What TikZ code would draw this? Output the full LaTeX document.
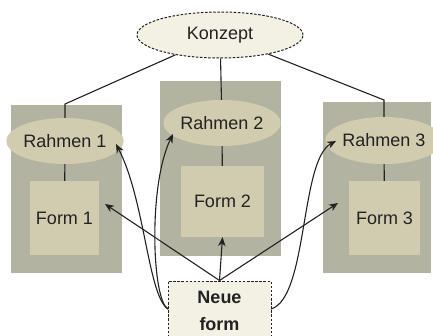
\documentclass[tikz,border=0pt]{standalone}
\usepackage{fontspec}
\setmainfont{Liberation Sans}
\usetikzlibrary{shapes.geometric,arrows.meta}
\definecolor{panelgray}{HTML}{B3B3A2}
\definecolor{shapefill}{HTML}{D1CCAF}
\definecolor{lightfill}{HTML}{F3F0E4}
\definecolor{ink}{HTML}{222222}
\tikzset{
  x=1pt, y=1pt,
  every node/.style={font=\fontsize{18}{22}\selectfont, text=ink, inner sep=0pt},
  panel/.style={rectangle, fill=panelgray},
  frame/.style={ellipse, fill=shapefill},
  formbox/.style={rectangle, fill=shapefill},
  dotted border/.style={draw=ink, line width=1pt, dash pattern=on 2.5pt off 1.6pt},
  link/.style={draw=ink, line width=1.1pt},
  arr/.style={link, -{Stealth[length=9pt,width=7.5pt]}},
}
\begin{document}
\begin{tikzpicture}
\useasboundingbox (0,0) rectangle (433,-335);

% grey column panels
\node[panel, minimum width=111, minimum height=168] (p1) at (66.5,-189) {};
\node[panel, minimum width=121, minimum height=175] (p2) at (220.5,-168.5) {};
\node[panel, minimum width=108, minimum height=171] (p3) at (377,-187.5) {};

% top concept
\node[ellipse, fill=lightfill, dotted border, minimum width=166, minimum height=46] (konzept) at (220,-35) {Konzept};

% frames and forms
\node[frame, minimum width=95, minimum height=46] (r1) at (65,-141) {Rahmen 1};
\node[formbox, minimum width=69, minimum height=74] (f1) at (64.5,-218) {Form 1};
\node[frame, minimum width=93, minimum height=46] (r2) at (222,-123) {Rahmen 2};
\node[formbox, minimum width=83, minimum height=71] (f2) at (222.5,-201.5) {Form 2};
\node[frame, minimum width=94, minimum height=47] (r3) at (384,-140.5) {Rahmen 3};
\node[formbox, minimum width=71, minimum height=74] (f3) at (384.5,-218) {Form 3};

% new form box
\node[rectangle, fill=lightfill, dotted border, minimum width=103, minimum height=60,
      align=center, font=\fontsize{18}{27}\selectfont\bfseries] (neue) at (219.5,-311) {Neue\\form};

% tree connectors
\coordinate (k1) at (65,-104);
\coordinate (k3) at (384,-100);
\draw[link] (konzept) -- (k1) -- (r1);
\draw[link] (konzept) -- (r2);
\draw[link] (konzept) -- (k3) -- (r3);
\draw[link] (r1) -- (f1);
\draw[link] (r2) -- (f2);
\draw[link] (r3) -- (f3);

% arrows from the new form
\coordinate (t1) at (105,-204);
\coordinate (t3) at (338,-203);
\coordinate (sl) at (168,-309);
\coordinate (sr) at (271,-309);
\coordinate (tr1) at (116,-144);
\coordinate (tr2) at (173,-134);
\coordinate (tr3) at (336,-141);
\draw[arr] (neue.north) -- (t1);
\draw[arr] (neue.north) -- (f2.south);
\draw[arr] (neue.north) -- (t3);
\draw[arr] (sl) .. controls (148,-296) and (145,-200) .. (tr1);
\draw[arr] (sl) .. controls (152,-300) and (148,-185) .. (tr2);
\draw[arr] (sr) .. controls (308,-298) and (300,-160) .. (tr3);
\end{tikzpicture}
\end{document}
